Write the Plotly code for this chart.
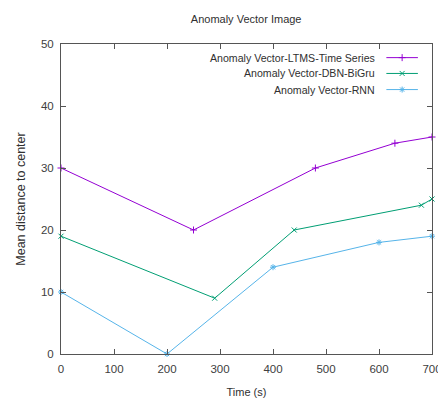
import plotly.graph_objects as go

time_ltms = [0, 250, 480, 630, 700]
vals_ltms = [30, 20, 30, 34, 35]
time_dbn = [0, 290, 440, 680, 700]
vals_dbn = [19, 9, 20, 24, 25]
time_rnn = [0, 200, 400, 600, 700]
vals_rnn = [10, 0, 14, 18, 19]

names = ["Anomaly Vector-LTMS-Time Series", "Anomaly Vector-DBN-BiGru", "Anomaly Vector-RNN"]
colors = ["#9400d3", "#009e73", "#56b4e9"]
symbols = ["cross-thin", "x-thin", "asterisk"]

series = [(time_ltms, vals_ltms), (time_dbn, vals_dbn), (time_rnn, vals_rnn)]

fig = go.Figure()
for (x, y), n, c, s in zip(series, names, colors, symbols):
    fig.add_trace(go.Scatter(x=x, y=y, mode="lines+markers", name=n,
                             line=dict(color=c, width=1),
                             marker=dict(symbol=s, size=5, color=c, line=dict(color=c, width=1)),
                             cliponaxis=False, showlegend=False))

# custom legend (text right, sample on right as in gnuplot)
leg_y = [0.956, 0.905, 0.853]
for n, c, s, ly in zip(names, colors, symbols, leg_y):
    fig.add_trace(go.Scatter(x=[0.877, 0.962], y=[ly, ly], xaxis="x2", yaxis="y2",
                             mode="lines", line=dict(color=c, width=1),
                             showlegend=False, hoverinfo="skip"))
    fig.add_trace(go.Scatter(x=[0.9195], y=[ly], xaxis="x2", yaxis="y2",
                             mode="markers",
                             marker=dict(symbol=s, size=5, color=c, line=dict(color=c, width=1)),
                             showlegend=False, hoverinfo="skip"))
    fig.add_annotation(x=0.853, y=ly, xref="x2", yref="y2", text=n, showarrow=False,
                       xanchor="right", yanchor="middle",
                       font=dict(size=10.6, color="#303030"))

axis_common = dict(showgrid=False, zeroline=False, showline=True, linecolor="#555555",
                   linewidth=1, ticks="inside", ticklen=5, tickcolor="#555555",
                   mirror="allticks", ticklabeloverflow="allow", automargin=False,
                   tickfont=dict(size=11.5, color="#404040"))

fig.update_layout(
    width=438, height=401,
    margin=dict(l=61, r=6, t=44, b=47),
    paper_bgcolor="white", plot_bgcolor="white",
    font=dict(family="Liberation Sans, Arial, sans-serif", color="#303030"),
    title=dict(text="Anomaly Vector Image", x=0.562, xanchor="center", y=0.951, yanchor="middle",
               font=dict(size=11, color="#303030")),
    xaxis=dict(range=[0, 700], dtick=100, ticklabelstandoff=4,
               title=dict(text="Time (s)", font=dict(size=11), standoff=14),
               **axis_common),
    yaxis=dict(range=[0, 50], dtick=10, ticklabelstandoff=4,
               title=dict(text="Mean distance to center", font=dict(size=12.5), standoff=12),
               **axis_common),
    xaxis2=dict(range=[0, 1], overlaying="x", visible=False, fixedrange=True),
    yaxis2=dict(range=[0, 1], overlaying="y", visible=False, fixedrange=True),
    showlegend=False,
)

fig.write_html("out.html")
